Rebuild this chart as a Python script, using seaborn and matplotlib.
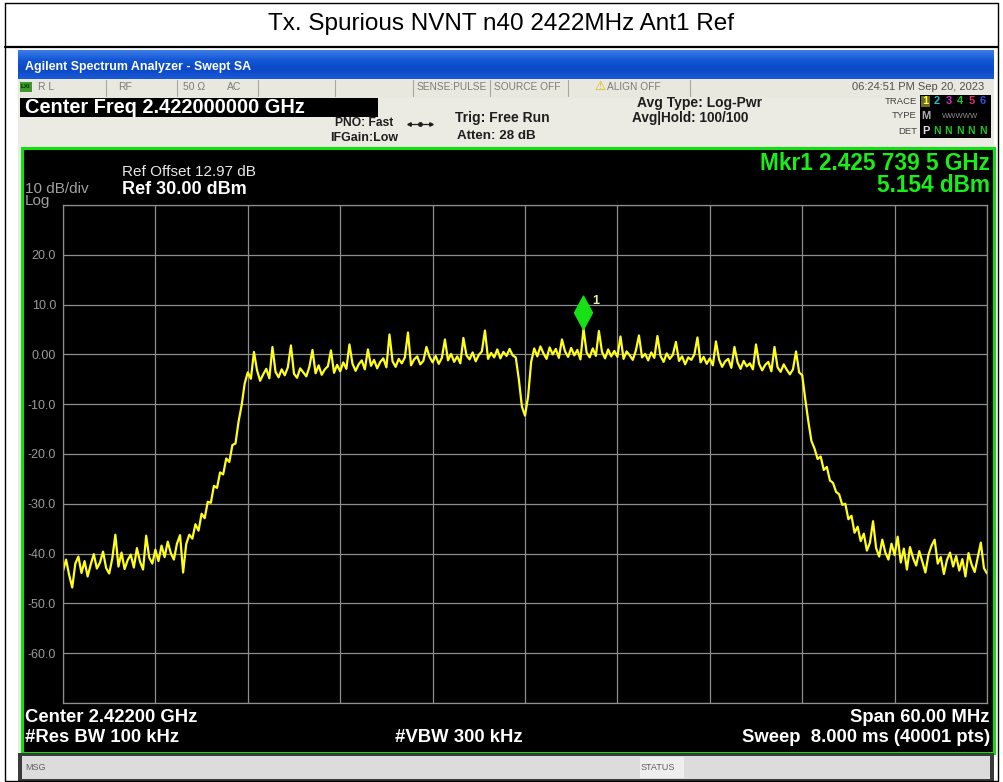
import numpy as np
import pandas as pd
import matplotlib
matplotlib.use("Agg")
import matplotlib.pyplot as plt
import seaborn as sns
from matplotlib.patches import Rectangle
from matplotlib.path import Path

# ---------------- data ----------------
TITLE = "Tx. Spurious NVNT n40 2422MHz Ant1 Ref"
CENTER_MHZ = 2422.0
SPAN_MHZ = 60.0
N_POINTS = 301
REF_LEVEL = 30.0
DB_PER_DIV = 10.0
Y_TICK_LABELS = ["", "20.0", "10.0", "0.00", "-10.0", "-20.0", "-30.0", "-40.0", "-50.0", "-60.0", ""]

MKR_FREQ_MHZ = 2425.7395
MKR_LEVEL = 5.154

level_div0 = [-43.5, -41.2, -44.3, -46.8, -42.0, -40.6, -43.9, -41.5, -44.6, -42.2,
              -40.1, -43.0, -41.8, -39.6, -42.9, -44.0, -41.0, -36.2, -42.6, -39.8,
              -43.1, -41.3, -40.2, -42.8, -38.9, -41.6, -43.2, -36.4, -40.8, -42.0]
level_div1 = [-39.2, -41.5, -38.4, -40.7, -37.6, -39.9, -41.2, -38.0, -36.3, -43.8,
              -38.1, -36.2, -37.0, -34.1, -35.4, -32.0, -32.9, -29.6, -29.8, -26.4,
              -26.8, -23.7, -24.1, -20.9, -21.6, -18.2, -17.9, -13.5, -10.2, -5.8]
level_div2 = [-3.6, -4.9, 0.5, -3.2, -5.3, -4.0, -2.9, -4.8, 1.5, -3.5,
              -4.6, -3.0, -4.2, -2.6, 1.8, -3.9, -4.7, -2.8, -3.6, -4.4,
              -2.5, 0.9, -3.8, -2.2, -4.1, -3.0, -2.4, 0.8, -3.7, -2.1]
level_div3 = [-3.4, -1.6, -2.9, 2.0, -1.9, -3.3, -2.0, -1.2, -3.0, 1.0,
              -2.3, -1.1, -2.8, -1.5, -0.8, -2.6, 4.0, -1.4, -2.5, -0.9,
              -1.8, -0.6, 4.4, -2.2, -1.0, -0.4, -2.0, -1.3, 1.5, -0.5]
level_div4 = [-1.6, -0.3, -1.9, -0.7, 3.0, -1.2, 0.1, -1.5, -0.4, -1.8,
              3.3, -0.2, -1.0, 0.4, -1.4, -0.1, 0.6, 4.8, -0.9, 0.3,
              -0.6, 1.0, -0.8, 0.5, -0.3, 1.1, -0.2, -0.6, -5.0, -10.5]
level_div5 = [-12.3, -8.5, -1.5, 1.2, -0.4, 1.6, 0.2, -0.9, 1.4, 0.0,
              1.1, -0.7, 3.0, 0.6, -0.5, 1.3, -0.2, 0.9, -1.0, 5.15,
              0.4, -0.6, 1.2, -0.3, 4.7, 0.5, -0.8, 1.0, -0.4, 0.7]
level_div6 = [-0.5, 3.6, -0.9, 0.6, -0.2, -1.1, 0.8, 3.8, -0.6, 0.1,
              -1.2, 0.4, -0.7, 3.7, -0.3, -1.5, 0.2, -0.9, -0.1, 2.5,
              -1.3, -0.4, -2.0, -0.6, -1.1, 0.0, 3.4, -1.6, -0.5, -1.9]
level_div7 = [-0.8, -2.2, 2.6, -1.0, -2.5, -1.4, -0.9, -2.7, 1.5, -1.6,
              -2.9, -1.3, -2.4, -1.8, -3.0, 2.0, -1.9, -3.2, -2.1, -1.5,
              -3.4, 1.5, -2.6, -3.5, -2.0, -3.1, -4.0, -3.0, 0.6, -3.6]
level_div8 = [-4.2, -9.0, -13.5, -17.4, -18.9, -21.0, -20.5, -23.2, -22.6, -25.3,
              -25.8, -27.6, -28.1, -30.2, -30.0, -33.1, -32.4, -35.8, -34.6, -37.5,
              -36.0, -39.4, -37.8, -33.5, -38.9, -40.6, -37.2, -39.8, -41.2, -38.0]
level_div9 = [-40.3, -36.6, -41.8, -39.0, -43.2, -38.7, -40.9, -42.4, -39.5, -41.6,
              -43.8, -40.2, -38.4, -37.2, -42.0, -40.7, -44.1, -41.3, -39.8, -42.6,
              -40.5, -43.4, -41.1, -44.6, -39.9, -42.2, -43.7, -40.8, -37.8, -42.9,
              -44.0]

levels = (level_div0 + level_div1 + level_div2 + level_div3 + level_div4 +
          level_div5 + level_div6 + level_div7 + level_div8 + level_div9)
f_start = CENTER_MHZ - SPAN_MHZ / 2
f_stop = CENTER_MHZ + SPAN_MHZ / 2
freqs = np.linspace(f_start, f_stop, N_POINTS)
df = pd.DataFrame({"freq": freqs, "level": levels})

# ---------------- figure ----------------
W, H = 1004, 782
sns.set_theme(style="dark")
plt.rcParams["font.family"] = ["Liberation Sans", "DejaVu Sans"]
fig = plt.figure(figsize=(W / 100, H / 100), dpi=100, facecolor="white")

bg = fig.add_axes([0, 0, 1, 1])
bg.set_xlim(0, W)
bg.set_ylim(H, 0)
bg.axis("off")

def rect(x0, y0, x1, y1, fc, ec="none", lw=0, z=1):
    bg.add_patch(Rectangle((x0, y0), x1 - x0, y1 - y0, facecolor=fc, edgecolor=ec, linewidth=lw, zorder=z))

def txt(x, y, s, size, color, ha="left", weight="normal", family=None, z=5):
    kw = {}
    if family:
        kw["family"] = family
    bg.text(x, y, s, fontsize=size, color=color, ha=ha, va="center", weight=weight, zorder=z, **kw)

# outer report table
bg.plot([5, 998, 998, 5, 5], [3, 3, 781, 781, 3], color="black", lw=1.0, zorder=10)
bg.plot([5, 998], [47, 47], color="black", lw=1.6, zorder=10)
txt(501, 24, TITLE, 17.5, "black", ha="center")

# screenshot frame
rect(18, 50, 994, 782, "#ecebe3")
# blue title bar (gradient)
grad = np.linspace(0, 1, 30).reshape(-1, 1)
blues = matplotlib.colors.LinearSegmentedColormap.from_list(
    "xp", ["#3c7ce6", "#1457d6", "#0b48c4", "#1a5ad8"])
bg.imshow(grad, cmap=blues, extent=(18, 994, 79, 50), aspect="auto", zorder=2)
txt(25, 67, "Agilent Spectrum Analyzer - Swept SA", 8.9, "white", weight="bold")

# status row
rect(18, 79, 994, 98, "#e9e8de", z=2)
for xs in [106, 177, 258, 335, 413, 490, 568, 690]:
    bg.plot([xs, xs], [80, 96], color="#a8a8a0", lw=0.8, zorder=3)
rect(20, 82, 32, 92, "#3c9a2a", z=3)
txt(21, 87, "LXI", 4.5, "#0c2a08", weight="bold")
grey_s = "#7c7c7c"
txt(38, 87, "R L", 7.5, grey_s)
txt(118, 87, "RF", 7.5, grey_s)
txt(183, 87, "50 Ω", 7.5, grey_s)
txt(227, 87, "AC", 7.5, grey_s)
txt(417, 87, "SENSE:PULSE", 7.3, grey_s)
txt(494, 87, "SOURCE OFF", 7.3, grey_s)
txt(594, 86, "⚠", 9, "#d6b800", family=["DejaVu Sans"])
txt(607, 87, "ALIGN OFF", 7.3, grey_s)
txt(984, 87, "06:24:51 PM Sep 20, 2023", 8.0, "#505050", ha="right")

# center freq box
rect(20, 98, 378, 117, "black", z=3)
txt(25, 107.5, "Center Freq 2.422000000 GHz", 14.4, "white", weight="bold")

dark = "#1e1e1e"
txt(335, 123, "PNO: Fast", 8.7, dark, weight="bold")
txt(330, 138, "IFGain:Low", 8.9, dark, weight="bold")
bg.plot([408, 432], [124, 124], color=dark, lw=0.9, zorder=4)
bg.plot([420], [124], marker="o", ms=2.5, color=dark, zorder=4)
bg.plot([409], [124], marker="<", ms=2.5, color=dark, zorder=4)
bg.plot([431], [124], marker=">", ms=2.5, color=dark, zorder=4)
txt(455, 118, "Trig: Free Run", 10.0, dark, weight="bold")
txt(457, 136, "Atten: 28 dB", 9.6, dark, weight="bold")
txt(637, 103, "Avg Type: Log-Pwr", 10.0, dark, weight="bold")
txt(632, 118, "Avg|Hold: 100/100", 9.8, dark, weight="bold")

# trace status box
txt(917, 101, "TRACE", 6.8, "#404040", ha="right")
txt(917, 116, "TYPE", 6.8, "#404040", ha="right")
txt(917, 131, "DET", 6.8, "#404040", ha="right")
rect(920, 95, 991, 138, "black", z=3)
rect(921, 96, 930, 107, "#6b6b20", z=4)
for xx, s, c in [(925.5, "1", "#ffff40"), (937, "2", "#20c0d0"), (948.5, "3", "#d030c0"),
                 (960, "4", "#30c030"), (971.5, "5", "#e03070"), (983, "6", "#3050e0")]:
    txt(xx, 101, s, 8, c, ha="center", weight="bold")
txt(925.5, 116, "M", 8, "#b0b0b0", ha="center", weight="bold")
txt(960, 117, "WWWWW", 5.5, "#909090", ha="center")
txt(925.5, 131, "P", 8, "#e0e0e0", ha="center", weight="bold")
for xx in [937, 948.5, 960, 971.5, 983]:
    txt(xx, 131, "N", 7.5, "#20c020", ha="center", weight="bold")

# display area
rect(22, 148, 994, 753, "black", ec="#10e010", lw=2.2, z=2)
txt(122, 172, "Ref Offset 12.97 dB", 11.0, "#e8e8e8")
txt(25, 189, "10 dB/div", 11.0, "#a0a0a0")
txt(25, 201, "Log", 11.0, "#a0a0a0")
txt(122, 189, "Ref 30.00 dBm", 13.0, "white", weight="bold")
txt(990, 163, "Mkr1 2.425 739 5 GHz", 16.3, "#19ee19", ha="right", weight="bold")
txt(990, 186, "5.154 dBm", 16.3, "#19ee19", ha="right", weight="bold")

txt(25, 717, "Center 2.42200 GHz", 13.3, "white", weight="bold")
txt(25, 738, "#Res BW 100 kHz", 13.3, "white", weight="bold")
txt(395, 738, "#VBW 300 kHz", 13.3, "white", weight="bold")
txt(990, 717, "Span 60.00 MHz", 13.3, "white", ha="right", weight="bold")
txt(990, 738, "Sweep  8.000 ms (40001 pts)", 13.3, "white", ha="right", weight="bold")

# message bar
rect(18, 753, 994, 782, "#3a3a3a", z=2)
rect(22, 756, 990, 779, "#dcdcdc", z=3)
rect(640, 757, 684, 778, "#eeeeee", z=3)
txt(25, 767, "MSG", 6.5, "#606060")
txt(641, 767, "STATUS", 6.5, "#606060")

# ---------------- spectrum axes ----------------
x0, x1, y0, y1 = 63, 987, 205, 703
ax = fig.add_axes([x0 / W, 1 - y1 / H, (x1 - x0) / W, (y1 - y0) / H])
ax.set_facecolor("black")
sns.lineplot(data=df, x="freq", y="level", ax=ax, color="#ffff1a", linewidth=1.6, sort=False)
ax.set_xlim(f_start, f_stop)
ax.set_ylim(REF_LEVEL - 10 * DB_PER_DIV, REF_LEVEL)
ax.set_xticks(np.linspace(f_start, f_stop, 11))
ax.set_yticks(np.linspace(REF_LEVEL - 10 * DB_PER_DIV, REF_LEVEL, 11)[::-1])
ax.set_yticklabels(Y_TICK_LABELS)
ax.set_xticklabels([])
ax.tick_params(axis="both", length=0)
ax.tick_params(axis="y", pad=5, labelsize=9, labelcolor="#9a9a9a")
ax.grid(True, color="#8e8e8e", linewidth=0.9)
for s in ax.spines.values():
    s.set_color("#8e8e8e")
    s.set_linewidth(0.9)
ax.set_xlabel("")
ax.set_ylabel("")

# marker: diamond sitting on the peak
diamond = Path([(0, 0), (0.27, 0.5), (0, 1.0), (-0.27, 0.5), (0, 0)],
               [Path.MOVETO, Path.LINETO, Path.LINETO, Path.LINETO, Path.CLOSEPOLY])
ax.plot([MKR_FREQ_MHZ], [MKR_LEVEL], marker=diamond, ms=48, color="#16e016",
        markeredgecolor="#16e016", linestyle="none", zorder=6)
ax.annotate("1", xy=(MKR_FREQ_MHZ, MKR_LEVEL), xytext=(7, 20), textcoords="offset points",
            color="#e8f0a0", fontsize=9, fontweight="bold", va="center")

fig.savefig("out.png", dpi=100, facecolor="white")
